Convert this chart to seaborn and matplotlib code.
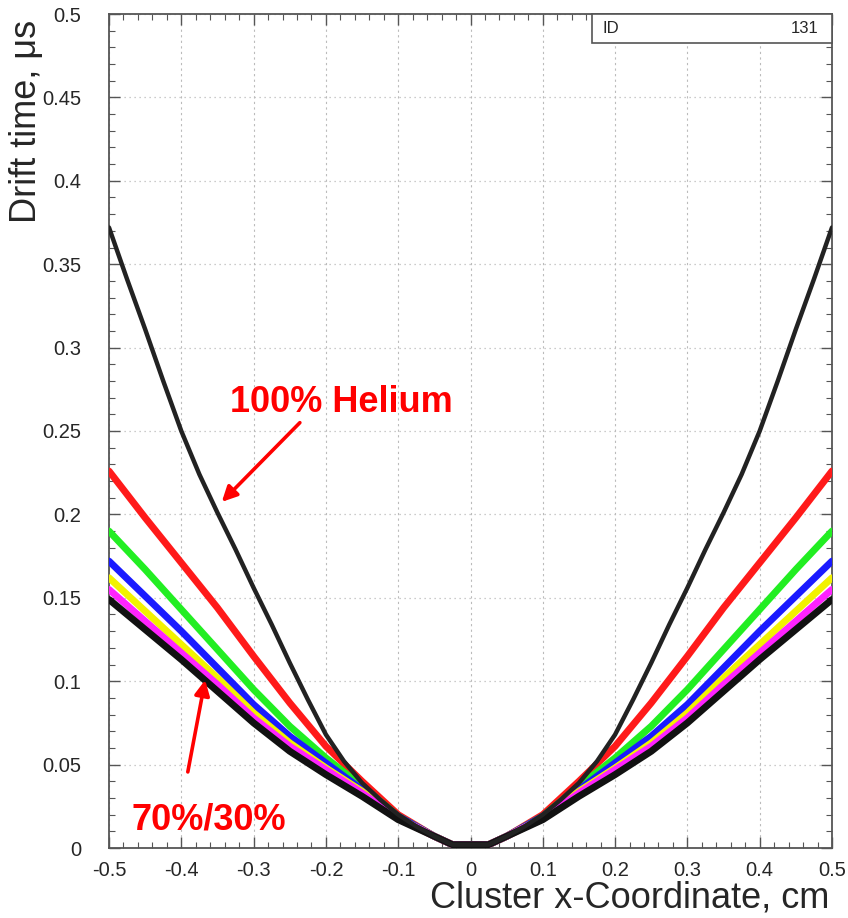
import numpy as np
import pandas as pd
import matplotlib
matplotlib.use("Agg")
import matplotlib.pyplot as plt
from matplotlib.ticker import MultipleLocator, FuncFormatter
from matplotlib.patches import Rectangle
import seaborn as sns

# ---- data ----
# 100% helium curve (read at finer steps)
x_he = [-0.5, -0.475, -0.45, -0.425, -0.4, -0.375, -0.35, -0.325, -0.3, -0.275, -0.25,
        -0.225, -0.2, -0.175, -0.15, -0.125, -0.1, -0.075, -0.05, -0.025, 0.0,
        0.025, 0.05, 0.075, 0.1, 0.125, 0.15, 0.175, 0.2, 0.225, 0.25, 0.275, 0.3,
        0.325, 0.35, 0.375, 0.4, 0.425, 0.45, 0.475, 0.5]
he100 = [0.372, 0.341, 0.311, 0.280, 0.250, 0.224, 0.201, 0.179, 0.156, 0.134, 0.111,
         0.089, 0.068, 0.052, 0.039, 0.029, 0.020, 0.013, 0.007, 0.002, 0.002,
         0.002, 0.007, 0.013, 0.020, 0.029, 0.039, 0.052, 0.068, 0.089, 0.111, 0.134, 0.156,
         0.179, 0.201, 0.224, 0.250, 0.280, 0.311, 0.341, 0.372]

# gas mixtures
x_mix = [-0.5, -0.45, -0.4, -0.35, -0.3, -0.25, -0.2, -0.15, -0.1, -0.05, -0.025, 0.0,
         0.025, 0.05, 0.1, 0.15, 0.2, 0.25, 0.3, 0.35, 0.4, 0.45, 0.5]
red = [0.226, 0.198, 0.171, 0.144, 0.115, 0.087, 0.061, 0.040, 0.020, 0.007, 0.002, 0.002,
       0.002, 0.007, 0.020, 0.040, 0.061, 0.087, 0.115, 0.144, 0.171, 0.198, 0.226]
green = [0.190, 0.167, 0.143, 0.119, 0.095, 0.073, 0.054, 0.037, 0.019, 0.007, 0.002, 0.002,
         0.002, 0.007, 0.019, 0.037, 0.054, 0.073, 0.095, 0.119, 0.143, 0.167, 0.190]
blue = [0.172, 0.151, 0.130, 0.108, 0.086, 0.067, 0.051, 0.035, 0.019, 0.007, 0.002, 0.002,
        0.002, 0.007, 0.019, 0.035, 0.051, 0.067, 0.086, 0.108, 0.130, 0.151, 0.172]
yellow = [0.162, 0.142, 0.122, 0.102, 0.081, 0.063, 0.048, 0.034, 0.018, 0.007, 0.002, 0.002,
          0.002, 0.007, 0.018, 0.034, 0.048, 0.063, 0.081, 0.102, 0.122, 0.142, 0.162]
magenta = [0.155, 0.136, 0.117, 0.098, 0.078, 0.061, 0.047, 0.033, 0.018, 0.007, 0.002, 0.002,
           0.002, 0.007, 0.018, 0.033, 0.047, 0.061, 0.078, 0.098, 0.117, 0.136, 0.155]
he70 = [0.149, 0.131, 0.113, 0.094, 0.075, 0.058, 0.044, 0.031, 0.017, 0.007, 0.002, 0.002,
        0.002, 0.007, 0.017, 0.031, 0.044, 0.058, 0.075, 0.094, 0.113, 0.131, 0.149]

mix_values = [red, green, blue, yellow, magenta]
mix_colors = ["#ff1a1a", "#22ee22", "#1a1aff", "#f2f200", "#ff22ff"]

x_ticks = [-0.5, -0.4, -0.3, -0.2, -0.1, 0.0, 0.1, 0.2, 0.3, 0.4, 0.5]
y_ticks = [0, 0.05, 0.1, 0.15, 0.2, 0.25, 0.3, 0.35, 0.4, 0.45, 0.5]

# ---- styling ----
sns.set_style("ticks")
plt.rcParams["font.family"] = ["Liberation Sans", "DejaVu Sans"]

fig = plt.figure(figsize=(8.48, 9.18), dpi=100)
ax = fig.add_axes([109 / 848, 1 - 848 / 918, (832 - 109) / 848, (848 - 14) / 918])

for vals, col in zip(mix_values, mix_colors):
    df = pd.DataFrame({"x": x_mix, "t": vals})
    sns.lineplot(data=df, x="x", y="t", color=col, linewidth=5.0, ax=ax, sort=False,
                 legend=False, zorder=3)
df = pd.DataFrame({"x": x_mix, "t": he70})
sns.lineplot(data=df, x="x", y="t", color="#111111", linewidth=5.0,
             ax=ax, sort=False, legend=False, zorder=3.5)
df = pd.DataFrame({"x": x_he, "t": he100})
sns.lineplot(data=df, x="x", y="t", color="#222222", linewidth=3.2,
             ax=ax, sort=False, legend=False, zorder=4)

ax.set_xlim(-0.5, 0.5)
ax.set_ylim(0, 0.5)
ax.set_xticks(x_ticks)
ax.set_yticks(y_ticks)
ax.xaxis.set_minor_locator(MultipleLocator(0.02))
ax.yaxis.set_minor_locator(MultipleLocator(0.01))
fmt = FuncFormatter(lambda v, p: f"{v:g}" if abs(v) > 1e-9 else "0")
ax.xaxis.set_major_formatter(fmt)
ax.yaxis.set_major_formatter(fmt)

ax.tick_params(which="both", direction="in", top=True, right=True, color="#555555")
ax.tick_params(which="major", length=8, width=1.0)
ax.tick_params(which="minor", length=4, width=0.8)
ax.tick_params(axis="x", which="major", labelsize=14.5, pad=9)
ax.tick_params(axis="y", which="major", labelsize=14.5, pad=20)

for s in ax.spines.values():
    s.set_color("#555555")
    s.set_linewidth(1.3)
    s.set_visible(True)

ax.grid(True, which="major", axis="x", color="#bbbbbb", linestyle=(0, (2, 3)), linewidth=0.8)
ax.grid(True, which="major", axis="y", color="#bbbbbb", linestyle=(0, (1, 3)), linewidth=0.9)
ax.set_axisbelow(True)

ax.set_xlabel("Cluster x-Coordinate, cm", fontsize=26, loc="right")
ax.xaxis.set_label_coords(0.997, -0.0385)
ax.set_ylabel("Drift time, μs", fontsize=26, loc="top")
ax.yaxis.set_label_coords(-0.0905, 0.993)

# ID box
ax.add_patch(Rectangle((0.668, 0.965), 0.332, 0.035, transform=ax.transAxes,
                       facecolor="white", edgecolor="#555555", linewidth=1.2, zorder=6,
                       clip_on=False))
ax.text(0.683, 0.9825, "ID", transform=ax.transAxes, fontsize=12, ha="left", va="center",
        zorder=7)
ax.text(0.981, 0.9825, "131", transform=ax.transAxes, fontsize=12, ha="right", va="center",
        zorder=7)

# annotations
ax.text(-0.179, 0.267, "100% Helium", color="#ff0000", fontsize=26, fontweight="bold",
        ha="center", va="center", zorder=8)
ax.annotate("", xy=(-0.344, 0.2075), xytext=(-0.236, 0.255),
            arrowprops=dict(arrowstyle="-|>,head_length=0.9,head_width=0.45", lw=2.6,
                            color="#ff0000", shrinkA=0, shrinkB=0), zorder=8)
ax.text(-0.362, 0.0168, "70%/30%", color="#ff0000", fontsize=26, fontweight="bold",
        ha="center", va="center", zorder=8)
ax.annotate("", xy=(-0.367, 0.1007), xytext=(-0.391, 0.0456),
            arrowprops=dict(arrowstyle="-|>,head_length=0.9,head_width=0.45", lw=2.6,
                            color="#ff0000", shrinkA=0, shrinkB=0), zorder=8)

fig.savefig("out.png", dpi=100)
